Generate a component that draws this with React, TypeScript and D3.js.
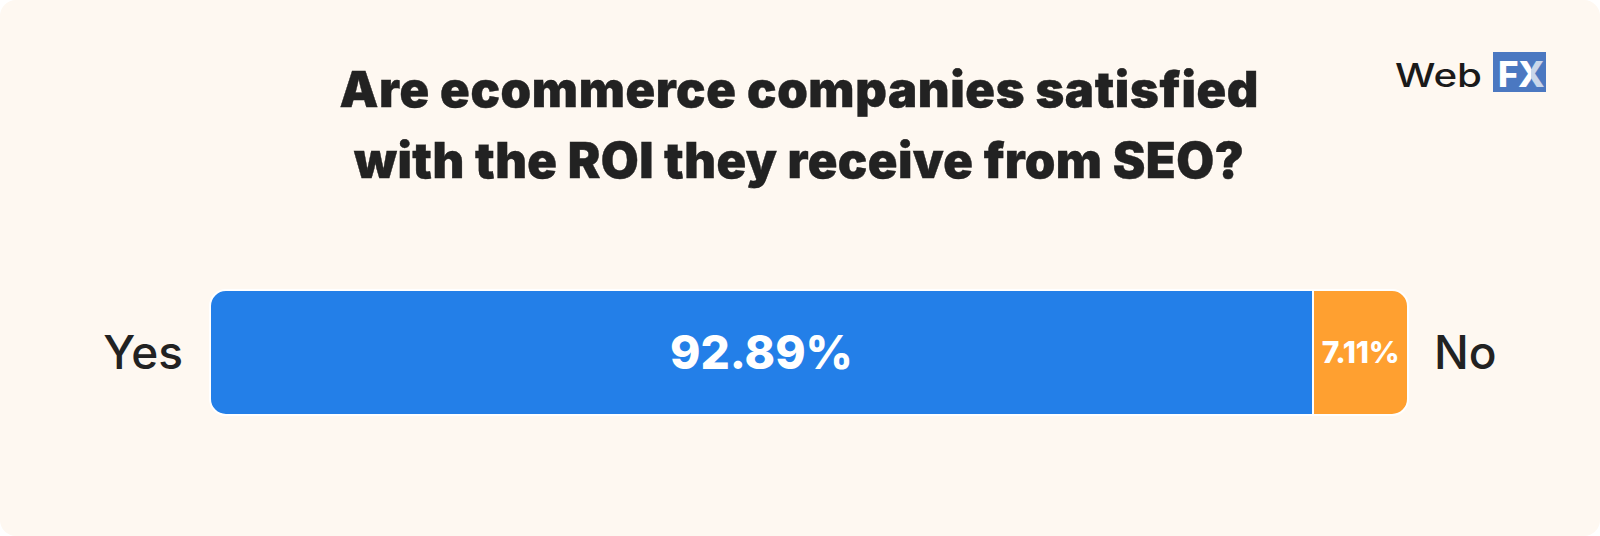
import React from 'react';
import * as d3 from 'd3';

const titleLines = ['Are ecommerce companies satisfied', 'with the ROI they receive from SEO?'];
const categories = ['Yes', 'No'];
const values = [92.89, 7.11];
const segColors = ['#237fe8', '#ffa030'];

const W = 1600;
const H = 536;
const barTop = 290;
const barH = 125;
const radius = 16;
const minSeg = 95;

// path for a segment with only the outer corners rounded
function segPath(x0: number, x1: number, y0: number, h: number, rl: number, rr: number) {
  const p = d3.path();
  const y1 = y0 + h;
  p.moveTo(x0 + rl, y0);
  p.lineTo(x1 - rr, y0);
  if (rr) p.arcTo(x1, y0, x1, y0 + rr, rr);
  p.lineTo(x1, y1 - rr);
  if (rr) p.arcTo(x1, y1, x1 - rr, y1, rr);
  p.lineTo(x0 + rl, y1);
  if (rl) p.arcTo(x0, y1, x0, y1 - rl, rl);
  p.lineTo(x0, y0 + rl);
  if (rl) p.arcTo(x0, y0, x0 + rl, y0, rl);
  p.closePath();
  return p.toString();
}

export default function App() {
  const x = d3.scaleLinear().domain([0, d3.sum(values)]).range([210, 1408]);

  // small segments get a minimum width so their label fits
  const raw = values.map((v) => x(v) - x(0));
  const small = raw.map((w) => w < minSeg);
  const extra = d3.sum(raw.map((w, i) => (small[i] ? minSeg - w : 0)));
  const bigTotal = d3.sum(raw.filter((_, i) => !small[i]));
  const widths = raw.map((w, i) => (small[i] ? minSeg : w - (extra * w) / bigTotal));

  let cursor = x(0);
  const segs = values.map((v, i) => {
    const x0 = cursor;
    const x1 = cursor + widths[i];
    cursor = x1;
    return { v, x0, x1, i };
  });

  const font = 'Inter, "Noto Sans", sans-serif';
  const cy = barTop + barH / 2;

  return (
    <svg width={W} height={H} style={{ position: 'absolute', left: 0, top: 0 }} fontFamily={font}>
      <defs>
        <linearGradient id="xgrad" x1="0" x2="1" y1="0" y2="0">
          <stop offset="0.5" stopColor="#ffffff" />
          <stop offset="0.5" stopColor="#c9d7ea" />
        </linearGradient>
      </defs>
      <rect x={0} y={0} width={W} height={H} fill="#ffffff" />
      <rect x={0} y={0} width={W} height={H} rx={16} fill="#fef8f1" />

      {titleLines.map((t, i) => (
        <text
          key={i}
          x={799}
          y={107 + i * 71}
          textAnchor="middle"
          fontSize={49}
          fontWeight={900}
          fill="#222222"
          stroke="#222222"
          strokeWidth={0.4}
          textLength={i === 0 ? 919 : 890}
          lengthAdjust="spacing"
        >
          {t}
        </text>
      ))}

      <g>
        <text
          x={1395}
          y={87}
          fontSize={32}
          fontWeight={500}
          fill="#1a1a1a"
          textLength={87}
          lengthAdjust="spacingAndGlyphs"
        >
          Web
        </text>
        <rect x={1493} y={52} width={53} height={40} fill="#4b78c1" />
        <text x={1498} y={87} fontSize={35} fontWeight={800} fill="#ffffff">
          F
        </text>
        <text x={1518} y={87} fontSize={35} fontWeight={800} fill="url(#xgrad)">
          X
        </text>
      </g>

      {segs.map((s) => (
        <path
          key={s.i}
          d={segPath(s.x0, s.x1, barTop, barH, s.i === 0 ? radius : 0, s.i === segs.length - 1 ? radius : 0)}
          fill={segColors[s.i]}
          stroke="#ffffff"
          strokeWidth={2}
        />
      ))}

      {segs.map((s) => (
        <text
          key={'v' + s.i}
          x={(s.x0 + s.x1) / 2}
          y={cy}
          dy="0.36em"
          textAnchor="middle"
          fontSize={s.x1 - s.x0 > 200 ? 46 : 30}
          fontWeight={800}
          fill="#ffffff"
          letterSpacing={s.x1 - s.x0 > 200 ? 0 : -0.3}
        >
          {d3.format('.2f')(s.v)}%
        </text>
      ))}

      <text x={segs[0].x0 - 27} y={cy} dy="0.36em" textAnchor="end" fontSize={46} fontWeight={500} fill="#222222">
        {categories[0]}
      </text>
      <text x={segs[segs.length - 1].x1 + 26} y={cy} dy="0.36em" textAnchor="start" fontSize={46} fontWeight={500} fill="#222222">
        {categories[1]}
      </text>
    </svg>
  );
}
